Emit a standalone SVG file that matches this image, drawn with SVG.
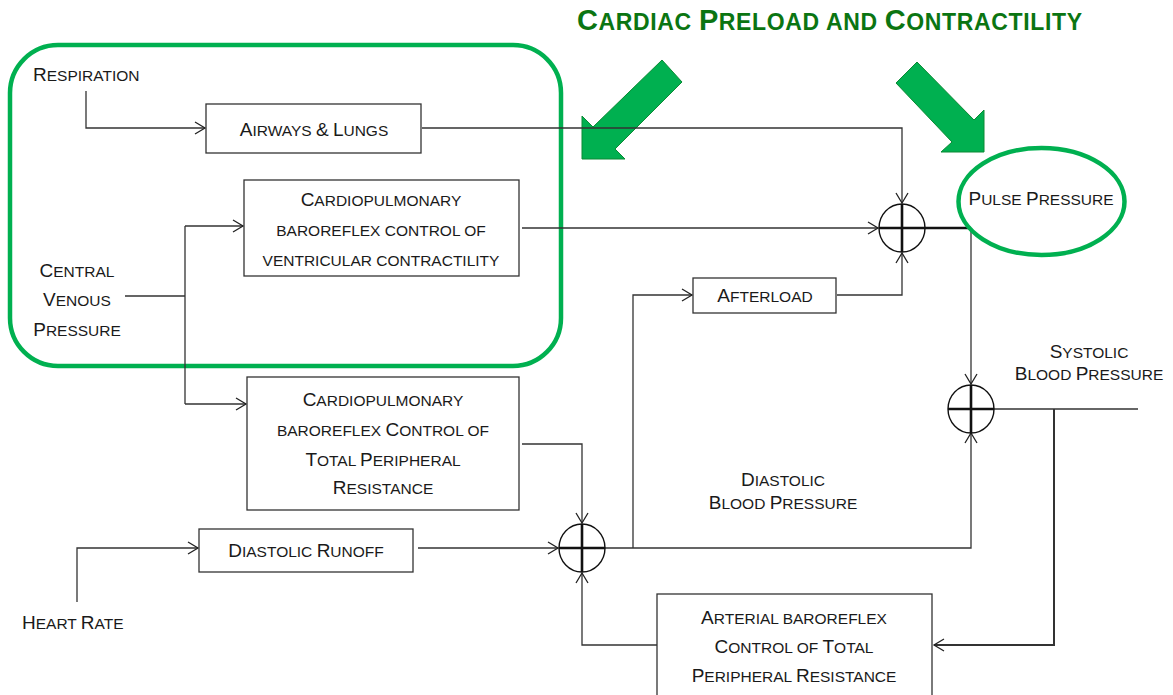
<svg xmlns="http://www.w3.org/2000/svg" width="1173" height="695" viewBox="0 0 1173 695">
<defs>
<style>
.t{font-family:"Liberation Sans",Arial,sans-serif;font-size:15.5px;fill:#1a1a1a}
.b{font-size:19px}
.title{font-family:"Liberation Sans",Arial,sans-serif;font-weight:bold;font-size:23px;fill:#0b7512}
.tb{font-size:29px}
.box{fill:#fff;stroke:#333;stroke-width:1.3}
.ln{fill:none;stroke:#333;stroke-width:1.3}
.thk{fill:none;stroke:#111;stroke-width:2.5}
.sum ellipse{fill:#fff;stroke:#111;stroke-width:1.4}
.sum path{fill:none;stroke:#111;stroke-width:2.6}
.grn{fill:none;stroke:#00b050;stroke-width:4.5}
.garrow{fill:#00b050;stroke:#0a8a34;stroke-width:1}
</style>
<marker id="a" markerUnits="userSpaceOnUse" viewBox="0 0 10 12" refX="10" refY="6" markerWidth="10" markerHeight="12" orient="auto" style="overflow:visible">
<path d="M0,0 L10,6 L0,12" fill="none" stroke="#222" stroke-width="1.3"/>
</marker>
</defs>
<rect width="1173" height="695" fill="#fff"/>

<g id="title">
<text class="title" x="577" y="30" textLength="505" lengthAdjust="spacing"><tspan class="tb">C</tspan>ARDIAC <tspan class="tb">P</tspan>RELOAD AND <tspan class="tb">C</tspan>ONTRACTILITY</text>
</g>

<g id="highlight-preload">
<rect class="grn" x="10" y="45" width="551" height="321" rx="48" ry="48"/>
</g>

<g id="green-arrows">
<polygon class="garrow" points="662,60 682,82 615,149 625,159 582,159 582,116 593,127"/>
<polygon class="garrow" points="917,62 974,120 984,110 984,152 941,152 952,142 896,83"/>
</g>

<g id="connectors">
<path class="ln" d="M86,91 V128 H205" marker-end="url(#a)"/>
<path class="ln" d="M422,128 H902 V203" marker-end="url(#a)"/>
<path class="ln" d="M522,228 H878" marker-end="url(#a)"/>
<path class="ln" d="M125,296 H185 M185,226 V404"/>
<path class="ln" d="M185,226 H243" marker-end="url(#a)"/>
<path class="ln" d="M185,404 H246" marker-end="url(#a)"/>
<path class="ln" d="M522,444 H582 V523" marker-end="url(#a)"/>
<path class="ln" d="M418,548 H558" marker-end="url(#a)"/>
<path class="ln" d="M77,602 V548 H198" marker-end="url(#a)"/>
<path class="ln" d="M605,548 H971 V433" marker-end="url(#a)"/>
<path class="ln" d="M633,548 V295 H692" marker-end="url(#a)"/>
<path class="ln" d="M837,295 H902 V253" marker-end="url(#a)"/>
<path class="thk" d="M925,228 H971"/>
<path class="ln" d="M971,228 V384" marker-end="url(#a)"/>
<path class="ln" d="M994,409 H1138" style="stroke-width:1.6"/>
<path class="ln" d="M1054,409 V645 H934" style="stroke-width:2" marker-end="url(#a)"/>
<path class="ln" d="M657,645 H582 V573" marker-end="url(#a)"/>
</g>

<g id="respiration">
<text class="t" x="33" y="81"><tspan class="b">R</tspan>ESPIRATION</text>
</g>

<g id="airways-lungs">
<rect class="box" x="206" y="104" width="215" height="49"/>
<text class="t" x="314" y="136" text-anchor="middle"><tspan class="b">A</tspan>IRWAYS <tspan class="b">&amp;</tspan> <tspan class="b">L</tspan>UNGS</text>
</g>

<g id="cp-contractility">
<rect class="box" x="244" y="180" width="275" height="96"/>
<text class="t" x="381" y="206" text-anchor="middle"><tspan class="b">C</tspan>ARDIOPULMONARY</text>
<text class="t" x="381" y="236" text-anchor="middle">BAROREFLEX CONTROL OF</text>
<text class="t" x="381" y="266" text-anchor="middle">VENTRICULAR CONTRACTILITY</text>
</g>

<g id="central-venous-pressure">
<text class="t" x="77" y="277" text-anchor="middle"><tspan class="b">C</tspan>ENTRAL</text>
<text class="t" x="77" y="306" text-anchor="middle"><tspan class="b">V</tspan>ENOUS</text>
<text class="t" x="77" y="336" text-anchor="middle"><tspan class="b">P</tspan>RESSURE</text>
</g>

<g id="cp-tpr">
<rect class="box" x="247" y="377" width="272" height="133"/>
<text class="t" x="383" y="406" text-anchor="middle"><tspan class="b">C</tspan>ARDIOPULMONARY</text>
<text class="t" x="383" y="436" text-anchor="middle">BAROREFLEX <tspan class="b">C</tspan>ONTROL OF</text>
<text class="t" x="383" y="466" text-anchor="middle"><tspan class="b">T</tspan>OTAL <tspan class="b">P</tspan>ERIPHERAL</text>
<text class="t" x="383" y="494" text-anchor="middle"><tspan class="b">R</tspan>ESISTANCE</text>
</g>

<g id="diastolic-runoff">
<rect class="box" x="199" y="529" width="214" height="43"/>
<text class="t" x="306" y="557" text-anchor="middle"><tspan class="b">D</tspan>IASTOLIC <tspan class="b">R</tspan>UNOFF</text>
</g>

<g id="heart-rate">
<text class="t" x="22" y="629"><tspan class="b">H</tspan>EART <tspan class="b">R</tspan>ATE</text>
</g>

<g id="afterload">
<rect class="box" x="693" y="278" width="143" height="35"/>
<text class="t" x="765" y="302" text-anchor="middle"><tspan class="b">A</tspan>FTERLOAD</text>
</g>

<g id="sum-pulse" class="sum">
<ellipse cx="902" cy="228" rx="23" ry="24"/>
<path d="M879,228 H925 M902,204 V252"/>
</g>

<g id="sum-diastolic" class="sum">
<ellipse cx="582" cy="548" rx="23" ry="24"/>
<path d="M559,548 H605 M582,524 V572"/>
</g>

<g id="sum-systolic" class="sum">
<ellipse cx="971" cy="409" rx="23" ry="24"/>
<path d="M948,409 H994 M971,385 V433"/>
</g>

<g id="pulse-pressure">
<ellipse class="grn" cx="1041.5" cy="201.5" rx="83" ry="53.5"/>
<text class="t" x="1041" y="205" text-anchor="middle"><tspan class="b">P</tspan>ULSE <tspan class="b">P</tspan>RESSURE</text>
</g>

<g id="systolic-bp">
<text class="t" x="1089" y="358" text-anchor="middle"><tspan class="b">S</tspan>YSTOLIC</text>
<text class="t" x="1089" y="380" text-anchor="middle"><tspan class="b">B</tspan>LOOD <tspan class="b">P</tspan>RESSURE</text>
</g>

<g id="diastolic-bp">
<text class="t" x="783" y="486" text-anchor="middle"><tspan class="b">D</tspan>IASTOLIC</text>
<text class="t" x="783" y="509" text-anchor="middle"><tspan class="b">B</tspan>LOOD <tspan class="b">P</tspan>RESSURE</text>
</g>

<g id="arterial-tpr">
<rect class="box" x="657" y="594" width="275" height="110"/>
<text class="t" x="794" y="624" text-anchor="middle"><tspan class="b">A</tspan>RTERIAL BAROREFLEX</text>
<text class="t" x="794" y="653" text-anchor="middle"><tspan class="b">C</tspan>ONTROL OF <tspan class="b">T</tspan>OTAL</text>
<text class="t" x="794" y="682" text-anchor="middle"><tspan class="b">P</tspan>ERIPHERAL <tspan class="b">R</tspan>ESISTANCE</text>
</g>
</svg>
